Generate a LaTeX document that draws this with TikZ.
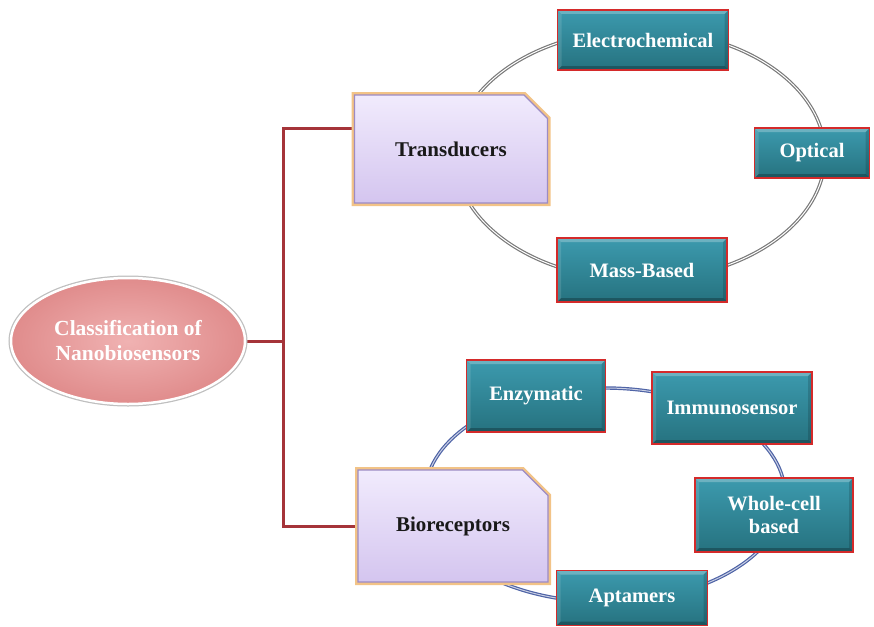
\documentclass[tikz,border=0pt]{standalone}
\usepackage{fontspec}
\setmainfont{Liberation Serif}
\usetikzlibrary{shapes.geometric,shapes.misc}

\definecolor{tealtop}{HTML}{3C9AAE}
\definecolor{tealbot}{HTML}{26727F}
\definecolor{boxred}{HTML}{D42A2A}
\definecolor{bracketred}{HTML}{A53439}
\definecolor{lavtop}{HTML}{F1EBFD}
\definecolor{lavbot}{HTML}{D4C5EF}
\definecolor{lavedge}{HTML}{F2C387}
\definecolor{lavline}{HTML}{9C8BC4}
\definecolor{pinkin}{HTML}{F0B2B2}
\definecolor{pinkout}{HTML}{E08C8C}
\definecolor{ringgray}{HTML}{7A7A7A}
\definecolor{ringblue}{HTML}{4E63A6}

\pgfdeclarelayer{bg}
\pgfsetlayers{bg,main}

\tikzset{
  leaf/.style={rectangle, draw=boxred, line width=1.8pt,
    top color=tealtop, bottom color=tealbot, text=white,
    font=\fontsize{20.5}{23}\selectfont\bfseries, align=center, inner sep=0pt,
    path picture={
      \fill[white, opacity=0.25]
        (path picture bounding box.north west) -- (path picture bounding box.north east)
        -- ([shift={(-4pt,-4pt)}]path picture bounding box.north east)
        -- ([shift={(4pt,-4pt)}]path picture bounding box.north west) -- cycle;
      \fill[black, opacity=0.25]
        (path picture bounding box.south west) -- (path picture bounding box.south east)
        -- ([shift={(-4pt,4pt)}]path picture bounding box.south east)
        -- ([shift={(4pt,4pt)}]path picture bounding box.south west) -- cycle;
      \fill[black, opacity=0.15]
        (path picture bounding box.south east) -- (path picture bounding box.north east)
        -- ([shift={(-4pt,-4pt)}]path picture bounding box.north east)
        -- ([shift={(-4pt,4pt)}]path picture bounding box.south east) -- cycle;
      \fill[white, opacity=0.12]
        (path picture bounding box.south west) -- (path picture bounding box.north west)
        -- ([shift={(4pt,-4pt)}]path picture bounding box.north west)
        -- ([shift={(4pt,4pt)}]path picture bounding box.south west) -- cycle;
    }},
  branch/.style={chamfered rectangle, chamfered rectangle corners=north east,
    chamfered rectangle xsep=16pt, chamfered rectangle ysep=16pt,
    preaction={draw=lavedge, line width=6pt},
    draw=lavline, line width=1.2pt, top color=lavtop, bottom color=lavbot,
    font=\fontsize{21}{24}\selectfont\bfseries, text=black!90, inner sep=0pt},
  root/.style={ellipse, inner sep=0pt,
    preaction={draw=black!25, line width=5pt},
    draw=white, line width=2.5pt, inner color=pinkin, outer color=pinkout,
    text=white, align=center, font=\fontsize{21.5}{25}\selectfont\bfseries},
  bracket/.style={draw=bracketred, line width=3pt},
  grayring/.style={draw=ringgray, line width=1.2pt, double=white, double distance=1pt},
  bluering/.style={draw=ringblue, line width=1.2pt, double=ringblue!30!white, double distance=1pt}
}

\begin{document}
\begin{tikzpicture}[x=1pt,y=-1pt]
\useasboundingbox (0,0) rectangle (874,626);

% root and the two branches
\node[root, minimum width=234pt, minimum height=126pt] (cls) at (128,341)
  {Classification of\\Nanobiosensors};
\node[branch, minimum width=193pt, minimum height=108pt] (trans) at (451,149) {Transducers};
\node[branch, minimum width=190pt, minimum height=112pt] (bio) at (453,526) {Bioreceptors};

% transducer types
\node[leaf, minimum width=171pt, minimum height=60pt] (elec) at (643,40) {Electrochemical};
\node[leaf, minimum width=115pt, minimum height=50pt] (opt) at (812,153) {Optical};
\node[leaf, minimum width=170pt, minimum height=64pt] (mass) at (642,270) {Mass-Based};

% bioreceptor types
\node[leaf, minimum width=139pt, minimum height=72pt] (enz) at (536,396) {Enzymatic};
\node[leaf, minimum width=160pt, minimum height=72pt] (imm) at (732,408) {Immunosensor};
\node[leaf, minimum width=158pt, minimum height=74pt] (whole) at (774,515) {Whole-cell\\based};
\node[leaf, minimum width=151pt, minimum height=55pt] (apt) at (632,598) {Aptamers};

\coordinate (spine) at (283,340);
\coordinate (tring) at (640,155);
\coordinate (bring) at (605,495);

\begin{pgfonlayer}{bg}
  % rings linking each branch with its types
  \draw[grayring] (tring) ellipse [x radius=185, y radius=125];
  \draw[bluering] (bring) ellipse [x radius=180, y radius=107];
  % bracket from the root to both branches
  \draw[bracket] (cls.east) -- (cls.east -| spine);
  \draw[bracket] ([yshift=21pt]trans.west) -| (spine) |- (bio.west);
\end{pgfonlayer}
\end{tikzpicture}
\end{document}
